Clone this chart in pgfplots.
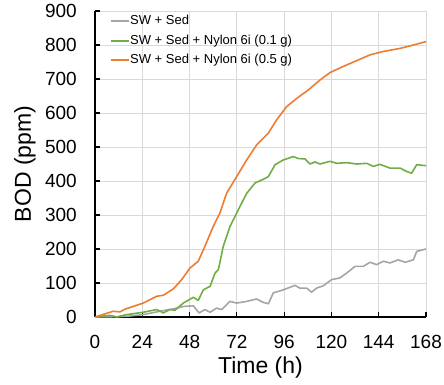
\documentclass[border=0pt]{standalone}
\usepackage{pgfplots}
\pgfplotsset{compat=1.18}
\usepackage{fontspec}
\setmainfont{Liberation Sans}
\definecolor{cgray}{HTML}{A5A5A5}
\definecolor{cgreen}{HTML}{70AD47}
\definecolor{corange}{HTML}{ED7D31}
\definecolor{cgrid}{HTML}{D9D9D9}
\begin{document}
\begin{tikzpicture}
\useasboundingbox (-95pt,-67pt) rectangle (349pt,317pt);
\begin{axis}[
  at={(0pt,0pt)}, anchor=south west,
  scale only axis, width=331pt, height=306pt,
  xmin=0, xmax=168, ymin=0, ymax=900,
  xtick={0,24,...,168}, ytick={0,100,...,900},
  axis x line*=bottom, axis y line*=left,
  axis line style={black, line width=1.8pt},
  tick style={black, line width=1.2pt},
  tick align=inside, major tick length=5pt,
  grid=major, major grid style={cgrid, line width=0.8pt},
  /pgf/number format/assume math mode=true,
  ticklabel style={font=\fontsize{19}{19}\selectfont, inner sep=0pt},
  yticklabel style={anchor=east, xshift=-18pt},
  xticklabel style={anchor=north, yshift=-18pt},
  xlabel={Time (h)}, ylabel={BOD (ppm)},
  label style={font=\fontsize{23}{23}\selectfont},
  xlabel style={at={(axis description cs:0.5,-0.1667)}, anchor=center},
  ylabel style={at={(axis description cs:-0.2115,0.5)}, anchor=center},
  legend style={draw=none, fill=none, at={(rel axis cs:0.045,0.99)}, anchor=north west,
    font=\fontsize{13}{13}\selectfont, row sep=5.5pt, inner sep=0pt,
    nodes={text height=10pt, text depth=3pt, inner sep=0.5pt}},
  legend cell align=left,
  legend image code/.code={\draw[#1] (0pt,0pt) -- (18pt,0pt);},
  every axis plot/.append style={line width=1.6pt, line join=round},
  clip=false,
]
\addplot[cgray] coordinates {
(0,0) (10,1) (16,2) (24.5,7) (33,17) (39.8,24) (44.8,31) (49.9,33) (52.8,12) (55.8,22) (58.4,14) (61.7,26) (64.3,22) (68.5,46) (71.9,41) (77,46) (82,53) (85.4,43) (88,39) (90.5,71) (95.6,80) (101.5,93) (104,85) (107.4,85) (109.9,73) (112.5,85) (115.9,92) (120.1,110) (124.3,115) (127.7,129) (132,149) (136.2,149) (139.6,161) (143,154) (146.3,164) (149.7,159) (153.9,168) (157.4,161) (161.6,168) (163.3,193) (168,200)
};
\addlegendentry{SW + Sed}
\addplot[cgreen] coordinates {
(0,0) (7.6,5) (11,0) (16,7) (24.5,14) (31.3,22) (34.7,12) (38,22) (40.6,20) (44.8,41) (49.9,58) (52.4,49) (55,80) (58.4,90) (60.9,129) (62.6,139) (65.1,208) (68.5,266) (71.9,306) (77,364) (81.2,394) (85.4,405) (88,413) (91.4,448) (95.6,462) (100.7,472) (103.2,466) (106.6,465) (109.1,450) (111.7,456) (114.2,450) (119.3,458) (122.7,452) (127.7,454) (132.8,450) (137.9,452) (141.3,443) (144.6,449) (149.7,438) (154.8,438) (158.2,428) (160.7,423) (163.3,448) (168,445)
};
\addlegendentry{SW + Sed + Nylon 6i (0.1 g)}
\addplot[corange] coordinates {
(0,0) (9.3,17) (12.7,15) (15.2,23) (24.5,41) (31.3,61) (34.7,64) (39.8,83) (44,110) (48.2,144) (52.4,164) (55.8,208) (60,266) (63.4,306) (66.8,364) (71.9,413) (77,462) (82,506) (88,541) (92.2,580) (97.3,619) (102.4,643) (108.3,668) (114.2,697) (119.3,719) (126,737) (132.8,754) (139.6,771) (146.3,781) (154.8,790) (161.6,800) (168,810)
};
\addlegendentry{SW + Sed + Nylon 6i (0.5 g)}
\end{axis}
\end{tikzpicture}
\end{document}
